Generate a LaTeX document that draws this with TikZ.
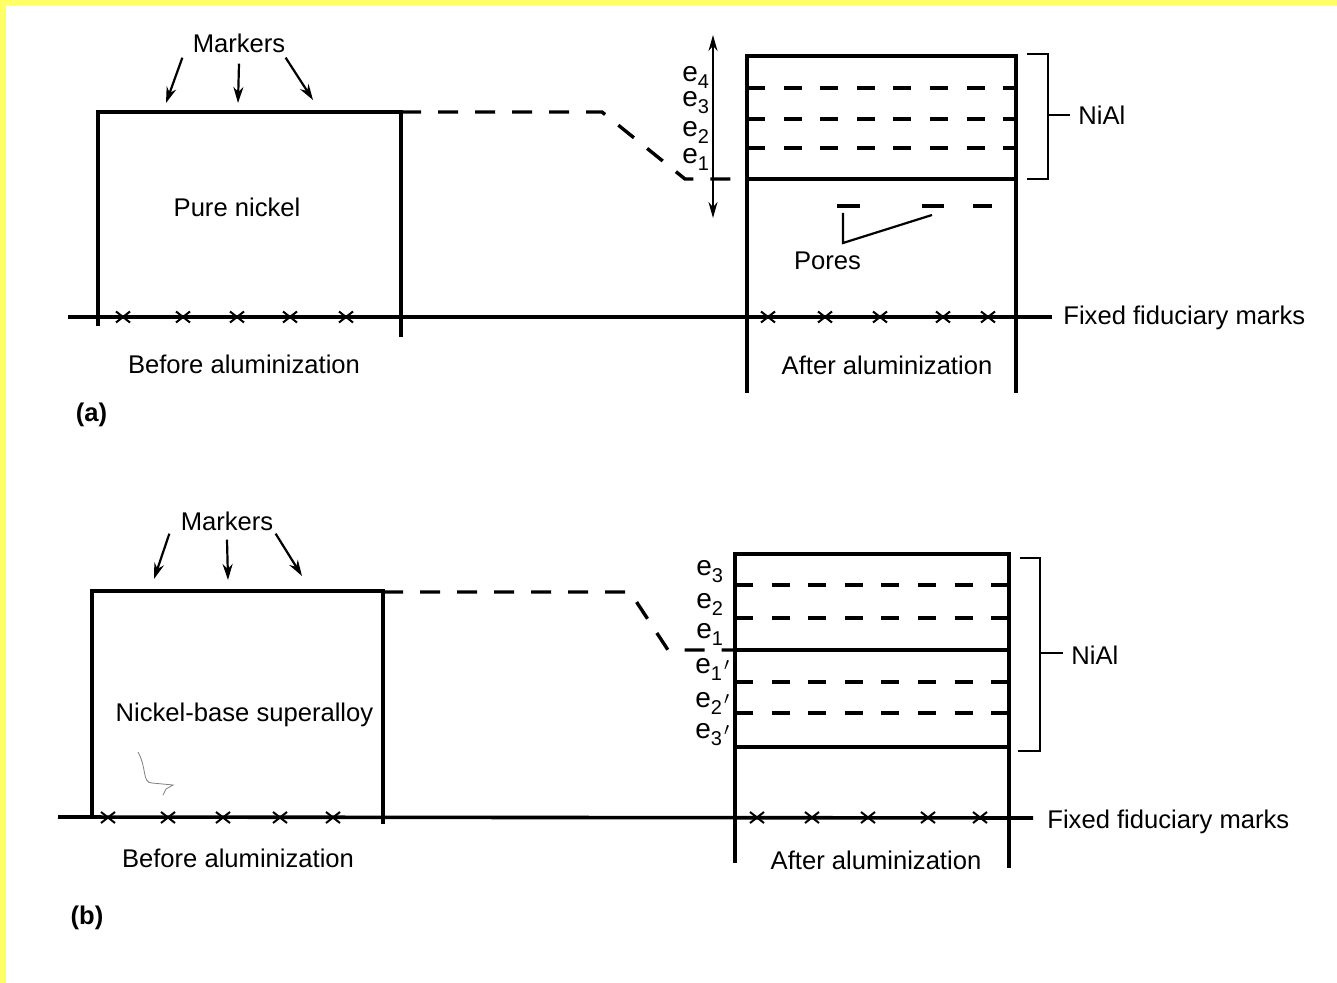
\documentclass[tikz,border=0pt]{standalone}
\usepackage{fontspec}
\setmainfont{Liberation Sans}
\usetikzlibrary{arrows.meta, positioning}
\definecolor{scanyellow}{HTML}{FFFF66}
\newcommand{\esub}[1]{\fontsize{14}{15}\selectfont e\raisebox{-3.5pt}{\fontsize{10}{10}\selectfont #1}}
\newcommand{\eprime}[1]{\esub{#1}\kern1pt\raisebox{1.5pt}{\fontsize{9}{9}\selectfont$\prime$}}

\begin{document}
\begin{tikzpicture}[
      x=0.5pt, y=-0.5pt,
      txt/.style={font=\fontsize{12.8}{14}\selectfont, inner sep=0pt, anchor=base},
      elabel/.style={txt, anchor=base west},
      wall/.style={line width=1.8pt},
      iface/.style={line width=1.8pt},
      layer/.style={line width=1.9pt, dash pattern=on 9pt off 9.3pt},
      link/.style={line width=1.7pt, dash pattern=on 10pt off 8.5pt},
      arrow/.style={-{Stealth[length=8pt, width=5pt]}, line width=1.1pt},
      bracket/.style={line width=1.1pt},
      xmark/.style={line width=1pt},
   ]
   \useasboundingbox (0,0) rectangle (1337,983);
   \fill[white] (0,0) rectangle (1337,983);
   \fill[scanyellow] (0,0) rectangle (1337,5);
   \fill[scanyellow] (0,0) rectangle (6,983);

   % (a) pure nickel
   \draw[wall] (68,317) -- (1052,317);
   \draw[wall] (98,326) -- (98,112) -- (401,112) -- (401,337);
   \foreach \x in {123,183,237,290,346,768,825,880,943,988}
      \draw[xmark] (\x-7,311.5) -- (\x+7,322.5) (\x-7,322.5) -- (\x+7,311.5);
   \node[txt] (marka) at (239,53) {Markers};
   \coordinate (tipa1) at (166,103);
   \coordinate (tipa2) at (238,103);
   \coordinate (tipa3) at (313,100);
   \draw[arrow] ([xshift=-5pt,yshift=-2pt]marka.south west) -- (tipa1);
   \draw[arrow] ([yshift=-5pt]marka.south) -- (tipa2);
   \draw[arrow] ([xshift=0pt,yshift=-2pt]marka.south east) -- (tipa3);
   \node[txt] (purea) at (237,217) {Pure nickel};
   \node[txt] (beforea) at (244,374) {Before aluminization};
   \node[txt, font=\fontsize{12.8}{14}\selectfont\bfseries] (capa) at (91.5,422) {(a)};

   % after aluminization (a)
   \draw[wall] (747,393) -- (747,56) -- (1016,56) -- (1016,393);
   \foreach \y in {88,119,148}
      \draw[layer] (747,\y) -- (1016,\y);
   \draw[iface] (747,179) -- (1016,179);
   \draw[link] (401,112) -- (602,112) -- (685,179) -- (747,179);
   \draw[{Stealth[length=8pt, width=4.5pt]}-{Stealth[length=8pt, width=4.5pt]}, line width=1.1pt] (713,35) -- (713,218);
   \node[elabel] (e4a) at (682,82) {\esub{4}};
   \node[elabel] (e3a) at (682,107) {\esub{3}};
   \node[elabel] (e2a) at (682,137) {\esub{2}};
   \node[elabel] (e1a) at (682,164) {\esub{1}};
   \draw[line width=1.7pt] (837,206) -- (860,206) (922,206) -- (944,206) (973,206) -- (992,206);
   \node[txt] (pores) at (827.5,270) {Pores};
   \coordinate (pore1) at (843,213);
   \coordinate (pore2) at (932,215);
   \coordinate (porev) at (843,243);
   \draw[line width=1.1pt] (pore1) -- (porev) -- (pore2);
   \node[txt] (aftera) at (887,375) {After aluminization};
   \node[txt, anchor=base west] (fixeda) at (1063,325) {Fixed fiduciary marks};
   \draw[bracket] (1027,54) -- (1048,54) -- (1048,179) -- (1027,179);
   \node[txt, anchor=base west] (niala) at (1078,125) {NiAl};
   \coordinate (brka) at (1048,115);
   \draw[bracket] (brka) -- ([xshift=-4pt]niala.west |- brka);

   % (b) nickel-base superalloy
   \draw[wall] (58,817) -- (1033,818);
   \draw[wall] (92,815) -- (92,591) -- (383,591) -- (383,824);
   \foreach \x in {108,168,223,280,333,757,812,868,928,980}
      \draw[xmark] (\x-7,812) -- (\x+7,823) (\x-7,823) -- (\x+7,812);
   \node[txt] (markb) at (227,530) {Markers};
   \coordinate (tipb1) at (154,579);
   \coordinate (tipb2) at (228,580);
   \coordinate (tipb3) at (302,576);
   \draw[arrow] ([xshift=-5.5pt,yshift=-1.5pt]markb.south west) -- (tipb1);
   \draw[arrow] ([yshift=-4.5pt]markb.south) -- (tipb2);
   \draw[arrow] ([xshift=1pt,yshift=-1.5pt]markb.south east) -- (tipb3);
   \node[txt] (alloyb) at (244.5,721) {Nickel-base superalloy};
   \draw[gray, line width=0.4pt] (138,752) .. controls (147,768) and (142,783) .. (152,783) -- (173,785) -- (166,789) -- (163,795);
   \node[txt] (beforeb) at (238,867) {Before aluminization};
   \node[txt, font=\fontsize{12.8}{14}\selectfont\bfseries] (capb) at (87,924) {(b)};

   % after aluminization (b)
   \draw[wall] (735,863) -- (735,554) -- (1009,554) -- (1009,868);
   \foreach \y in {585,618,682,713}
      \draw[layer] (735,\y) -- (1009,\y);
   \draw[iface] (735,650) -- (1009,650);
   \draw[iface] (735,747) -- (1009,747);
   \draw[link] (383,592) -- (630,592) -- (668,650) -- (735,650);
   \node[elabel] (e3b) at (696,575) {\esub{3}};
   \node[elabel] (e2b) at (696,608) {\esub{2}};
   \node[elabel] (e1b) at (696,638) {\esub{1}};
   \node[elabel] (e1pb) at (695,673) {\eprime{1}};
   \node[elabel] (e2pb) at (695,707) {\eprime{2}};
   \node[elabel] (e3pb) at (695,738) {\eprime{3}};
   \node[txt] (afterb) at (876,869) {After aluminization};
   \node[txt, anchor=base west] (fixedb) at (1047,828) {Fixed fiduciary marks};
   \draw[bracket] (1020,558) -- (1040,558) -- (1040,751) -- (1018,751);
   \node[txt, anchor=base west] (nialb) at (1071,664) {NiAl};
   \coordinate (brkb) at (1040,653);
   \draw[bracket] (brkb) -- ([xshift=-4pt]nialb.west |- brkb);
\end{tikzpicture}
\end{document}
